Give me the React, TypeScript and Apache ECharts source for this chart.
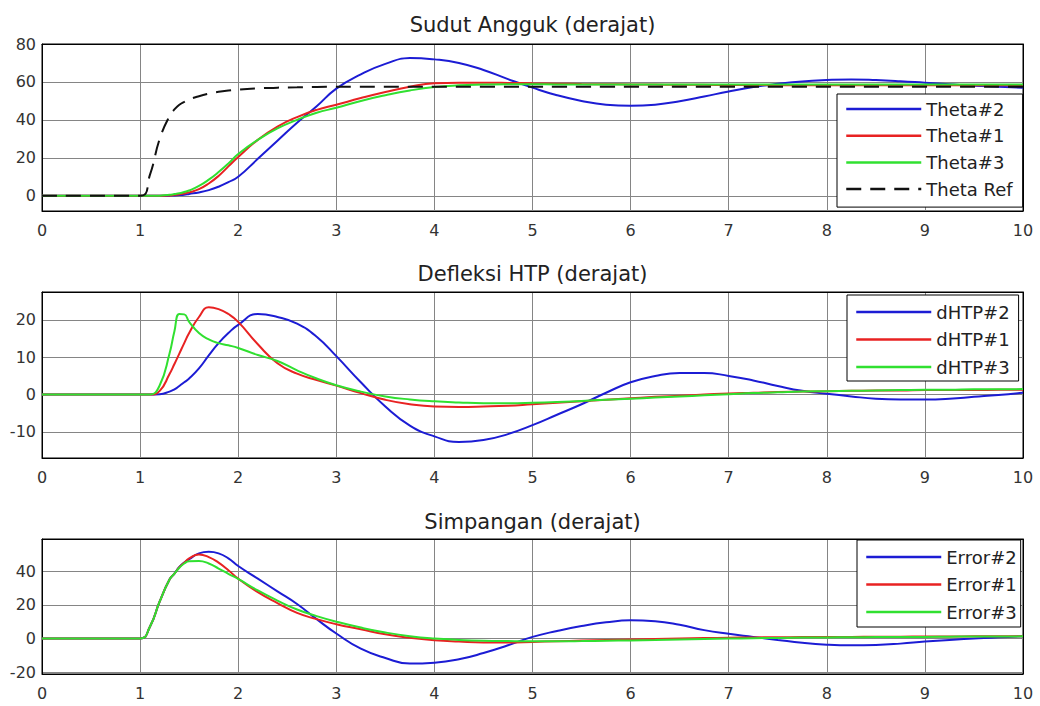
import React, { useEffect, useRef } from 'react';
import * as echarts from 'echarts';

// time samples (s)
const T = [0, 1, 1.1, 1.2, 1.3, 1.35, 1.4, 1.45, 1.5, 1.6, 1.7, 1.8, 1.9, 2.0, 2.2, 2.4, 2.6, 2.8, 3.0,
  3.25, 3.5, 3.75, 4.0, 4.25, 4.5, 4.75, 5.0, 5.25, 5.5, 5.75, 6.0, 6.25, 6.5, 6.75, 7.0,
  7.25, 7.5, 7.75, 8.0, 8.25, 8.5, 8.75, 9.0, 9.25, 9.5, 9.75, 10];

// Sudut Angguk
const theta2 = [0, 0, 0, 0, 0.1, 0.2, 0.4, 0.6, 1, 1.8, 3, 4.8, 7.2, 10, 19.5, 29, 38.5, 47.2, 56.5,
  64, 69.5, 72.6, 71.9, 70, 66.3, 61.5, 57, 53, 50, 48, 47.4, 48, 49.8, 52.3, 55,
  57.3, 59, 60.3, 61, 61.3, 61, 60.4, 59.6, 58.8, 58, 57.5, 57];
const theta1 = [0, 0, 0, 0, 0.2, 0.5, 0.8, 1.2, 1.8, 3.5, 6.5, 10.5, 15.5, 20.5, 29.5, 36.5, 41.5, 45.3, 48,
  51.5, 54.7, 57.5, 59.3, 59.6, 59.6, 59.5, 59.3, 59.1, 58.9, 58.8, 58.7, 58.6, 58.5, 58.5, 58.4,
  58.4, 58.3, 58.3, 58.3, 58.2, 58.2, 58.2, 58.2, 58.2, 58.2, 58.2, 58.2];
const theta3 = [0, 0, 0, 0.1, 0.5, 0.9, 1.3, 2, 2.8, 5.2, 8.5, 12.5, 17, 22, 29.5, 35.5, 40, 43.8, 46.4,
  50, 53, 55.5, 57.3, 58.2, 58.6, 58.8, 58.8, 58.7, 58.7, 58.7, 58.7, 58.7, 58.7, 58.7, 58.7,
  58.7, 58.7, 58.7, 58.7, 58.7, 58.7, 58.7, 58.7, 58.7, 58.7, 58.7, 58.7];
const thetaRef = [0, 0, 11, 30, 42, 45.5, 48, 49.5, 50.8, 52.5, 53.8, 54.8, 55.5, 56, 56.6, 57, 57.2, 57.4, 57.5,
  57.5, 57.5, 57.5, 57.5, 57.5, 57.5, 57.5, 57.5, 57.5, 57.5, 57.5, 57.5, 57.5, 57.5, 57.5, 57.5,
  57.5, 57.5, 57.5, 57.5, 57.5, 57.5, 57.5, 57.5, 57.5, 57.5, 57.5, 57.5];

// Defleksi HTP
const dhtp2 = [0, 0, 0, 0.1, 0.8, 1.4, 2.3, 3.3, 4.3, 7, 10.5, 13.8, 16.5, 18.7, 21.6, 20.8, 19, 15.5, 10.3,
  3.3, -3.2, -8.3, -11.2, -12.7, -12.2, -10.6, -8.2, -5.4, -2.6, 0.5, 3.3, 5, 5.8, 5.8, 5,
  3.8, 2.3, 1, 0.2, -0.5, -1.1, -1.3, -1.3, -1.1, -0.6, -0.1, 0.5];
const dhtp1 = [0, 0, 0, 1, 5.5, 8.2, 11, 13.8, 16.5, 20.8, 23.4, 22.9, 21.6, 19.5, 13.5, 8.4, 5.6, 3.9, 2.4,
  0.4, -1.4, -2.6, -3.2, -3.3, -3.2, -3, -2.6, -2.2, -1.8, -1.4, -1, -0.6, -0.3, 0, 0.3,
  0.5, 0.7, 0.8, 0.9, 1, 1.1, 1.1, 1.2, 1.2, 1.2, 1.3, 1.3];
const dhtp3 = [0, 0, 0, 2.5, 11, 17, 21.6, 21.5, 19.5, 16.5, 14.8, 13.8, 13.2, 12.5, 10.6, 9, 6.5, 4.3, 2.5,
  0.8, -0.5, -1.3, -1.8, -2.1, -2.3, -2.3, -2.2, -2, -1.7, -1.4, -1.1, -0.8, -0.5, -0.2, 0.1,
  0.4, 0.6, 0.8, 0.9, 1, 1.1, 1.2, 1.3, 1.3, 1.4, 1.4, 1.5];

// Simpangan
const err2 = [0, 0, 7, 22, 35, 38.5, 42.5, 45, 47, 50.5, 51.4, 50.5, 47.5, 43, 35.5, 28, 20.5, 11.5, 3,
  -6, -11.5, -14.8, -14.3, -12.3, -8.6, -4, 1, 4.5, 7.4, 9.6, 10.8, 10.3, 8.2, 5, 2.8,
  1, -0.8, -2.5, -3.6, -4, -3.8, -3, -1.8, -0.8, 0, 0.8, 1.4];
const err1 = [0, 0, 7, 22, 35, 38.5, 42.3, 45, 47.5, 49.8, 48.3, 45, 40.5, 35.5, 27.5, 21, 15.2, 11.5, 8.5,
  5.5, 2.5, 0.5, -1, -1.8, -2.3, -2.3, -2, -1.6, -1.2, -0.8, -0.5, -0.2, 0.1, 0.3, 0.5,
  0.7, 0.8, 0.9, 1, 1, 1.1, 1.1, 1.2, 1.2, 1.3, 1.3, 1.4];
const err3 = [0, 0, 7, 22, 35, 38.5, 42, 44.5, 45.8, 46, 44.5, 41.5, 38.3, 35.3, 28.5, 22.5, 17.2, 13.3, 10,
  6.5, 3.6, 1.4, 0, -0.8, -1.3, -1.5, -1.6, -1.6, -1.5, -1.3, -1.1, -0.9, -0.6, -0.3, 0,
  0.2, 0.4, 0.6, 0.7, 0.8, 0.9, 1, 1, 1.1, 1.2, 1.2, 1.3];

const TITLES = ['Sudut Angguk (derajat)', 'Defleksi HTP (derajat)', 'Simpangan (derajat)'];
const X_TICKS_MIN = 0;
const X_TICKS_MAX = 10;
const Y_RANGES = [[-8, 80], [-17, 27.5], [-21, 59]];

const PANELS = [
  [
    { name: 'Theta#2', data: theta2, color: '#1c1cd4' },
    { name: 'Theta#1', data: theta1, color: '#e82222' },
    { name: 'Theta#3', data: theta3, color: '#30e030' },
    { name: 'Theta Ref', data: thetaRef, color: '#111111', dashed: true },
  ],
  [
    { name: 'dHTP#2', data: dhtp2, color: '#1c1cd4' },
    { name: 'dHTP#1', data: dhtp1, color: '#e82222' },
    { name: 'dHTP#3', data: dhtp3, color: '#30e030' },
  ],
  [
    { name: 'Error#2', data: err2, color: '#1c1cd4' },
    { name: 'Error#1', data: err1, color: '#e82222' },
    { name: 'Error#3', data: err3, color: '#30e030' },
  ],
];

const FONT = 'DejaVu Sans';
const GRIDS = [
  { left: 42, top: 44, width: 981, height: 167 },
  { left: 42, top: 292, width: 981, height: 166 },
  { left: 42, top: 539, width: 981, height: 135 },
];
const TITLE_Y = [24.5, 274, 522];
const LEGENDS = [
  { left: 837, top: 94, padding: [6, 10, 9, 8], itemGap: 8.7 },
  { left: 847, top: 295, padding: [8, 9, 5, 8], itemGap: 9.5 },
  { left: 857, top: 540, padding: [8, 4, 6, 8], itemGap: 9.5 },
];

export default function App() {
  const ref = useRef<HTMLDivElement>(null);
  useEffect(() => {
    if (!ref.current) return;
    const chart = echarts.init(ref.current, null, { renderer: 'svg' });
    const gridLine = { show: true, lineStyle: { color: '#858585', width: 1 } };
    const xAxes: any[] = [];
    const yAxes: any[] = [];
    GRIDS.forEach((g, i) => {
      xAxes.push({
        type: 'value', gridIndex: i, min: X_TICKS_MIN, max: X_TICKS_MAX, interval: 1,
        axisLine: { show: true, onZero: false, lineStyle: { color: '#000', width: 1 } },
        axisTick: { show: false },
        axisLabel: { fontFamily: FONT, fontSize: 16, color: '#333', margin: 11 },
        splitLine: gridLine,
      });
      yAxes.push({
        type: 'value', gridIndex: i, min: Y_RANGES[i][0], max: Y_RANGES[i][1],
        axisLine: { show: true, onZero: false, lineStyle: { color: '#000', width: 1 } },
        axisTick: { show: false },
        axisLabel: {
          fontFamily: FONT, fontSize: 16, color: '#333', margin: 6,
          showMinLabel: false, showMaxLabel: i === 0,
        },
        splitLine: gridLine,
      });
    });
    GRIDS.forEach((g, i) => {
      xAxes.push({
        type: 'value', gridIndex: i, position: 'top', min: X_TICKS_MIN, max: X_TICKS_MAX, z: 4,
        axisLine: { show: true, onZero: false, lineStyle: { color: '#000', width: 1 } },
        axisTick: { show: false }, axisLabel: { show: false }, splitLine: { show: false },
      });
      yAxes.push({
        type: 'value', gridIndex: i, position: 'right', min: Y_RANGES[i][0], max: Y_RANGES[i][1], z: 4,
        axisLine: { show: true, onZero: false, lineStyle: { color: '#000', width: 1 } },
        axisTick: { show: false }, axisLabel: { show: false }, splitLine: { show: false },
      });
    });
    const series: any[] = [];
    PANELS.forEach((panel, i) => {
      panel.forEach((s: any) => {
        series.push({
          type: 'line', name: s.name, xAxisIndex: i, yAxisIndex: i,
          data: T.map((t, k) => [t, s.data[k]]),
          symbol: 'none', showSymbol: false, smooth: 0.5,
          color: s.color,
          lineStyle: { color: s.color, width: 2, type: s.dashed ? [15, 9] : 'solid' },
          emphasis: { disabled: true },
        });
      });
    });
    const legend = PANELS.map((panel, i) => ({
      show: true, orient: 'vertical', left: LEGENDS[i].left, top: LEGENDS[i].top,
      padding: LEGENDS[i].padding, itemGap: LEGENDS[i].itemGap,
      itemWidth: 75, itemHeight: 14, selectedMode: false,
      backgroundColor: '#fff', borderColor: '#000', borderWidth: 1, borderRadius: 0,
      itemStyle: { opacity: 0, borderWidth: 0 },
      lineStyle: { width: 2.5 },
      data: panel.map((s) => s.name),
      textStyle: { fontFamily: FONT, fontSize: 18, color: '#222', lineHeight: 18 },
    }));
    const graphic = TITLES.map((t, i) => ({
      type: 'text', x: GRIDS[i].left + GRIDS[i].width / 2, y: TITLE_Y[i],
      style: {
        text: t, fontFamily: FONT, fontSize: 21, fill: '#222',
        align: 'center', verticalAlign: 'middle', textAlign: 'center', textVerticalAlign: 'middle',
      },
    }));
    chart.setOption({
      animation: false,
      backgroundColor: '#fff',
      grid: GRIDS.map((g) => ({ ...g, show: true, borderColor: '#000', borderWidth: 1, containLabel: false })),
      xAxis: xAxes,
      yAxis: yAxes,
      legend,
      graphic,
      series,
    });
    return () => chart.dispose();
  }, []);
  return <div ref={ref} style={{ position: 'fixed', left: 0, top: 0, width: 1040, height: 706, background: '#fff' }} />;
}
